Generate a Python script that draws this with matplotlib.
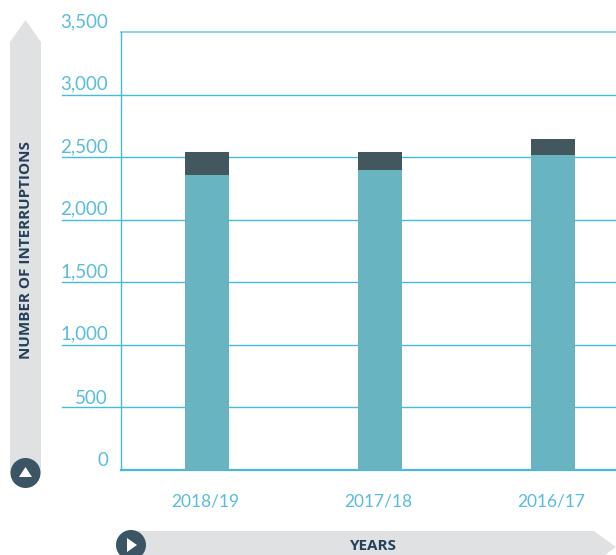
import matplotlib
matplotlib.use("Agg")
import matplotlib.pyplot as plt
from matplotlib.patches import Polygon, Circle
from matplotlib.transforms import ScaledTranslation

years = ["2018/19", "2017/18", "2016/17"]
lower_values = [2357, 2397, 2517]
upper_values = [184, 144, 128]
y_ticks = [0, 500, 1000, 1500, 2000, 2500, 3000, 3500]

W, H = 616, 555
BLUE = "#45bbde"
TEAL = "#68b4c0"
DARK = "#43585e"
GREY = "#e0e1e3"
NAVY = "#3b5564"
TEXT = "#24405a"

plt.rcParams["font.family"] = ["Lato", "DejaVu Sans"]

fig = plt.figure(figsize=(W / 100, H / 100), dpi=100)

# plot area in pixels: x 120.5..616, y 32..470
ax = fig.add_axes([120.5 / W, 1 - 470 / H, (W - 120.5) / W, 438 / H])
ax.bar(range(3), lower_values, width=0.254, color=TEAL, zorder=3)
ax.bar(range(3), upper_values, bottom=lower_values, width=0.254, color=DARK, zorder=3)
ax.set_xlim(-0.5, 2.364)
ax.set_ylim(0, 3500)

for s in ["right", "bottom", "top"]:
    ax.spines[s].set_visible(False)
ax.spines["left"].set_color(BLUE)
ax.spines["left"].set_linewidth(1)
ax.set_xticks(range(3))
ax.set_xticklabels(years, color="#58bcdc", fontsize=12.5)
ax.tick_params(axis="x", length=0, pad=17)
# labels sit a little left of the bar centres
for lab in ax.get_xticklabels():
    lab.set_transform(lab.get_transform() + ScaledTranslation(-2 / 100, 0, fig.dpi_scale_trans))
ax.set_yticks([])

for v in y_ticks:
    if v == 0:
        ax.axhline(v, color="#4db7d6", lw=1.6, zorder=2, clip_on=False)
    elif v == 3500:
        ax.axhline(v, color="#8fd3e6", lw=1.4, zorder=1, clip_on=False)
    else:
        # inner lines run out to the left under the labels
        ax.plot([-58.5 / (W - 120.5), 1], [v, v], color=BLUE, lw=1, zorder=1,
                clip_on=False, transform=ax.get_yaxis_transform())
    off = 0.5 if v <= 500 else 1.5
    ax.annotate(f"{v:,}", (0, v), xycoords=ax.get_yaxis_transform(),
                xytext=(-12.5 / 1.39, off), textcoords="offset points",
                ha="right", va="bottom", color="#58bcdc", fontsize=13.5)

# arrows and labels, in pixel coordinates
deco = fig.add_axes([0, 0, 1, 1], facecolor="none")
deco.set_xlim(0, W)
deco.set_ylim(H, 0)
deco.axis("off")

deco.add_patch(Polygon([(10, 42), (25.5, 20), (41, 42), (41, 473), (10, 473)], color=GREY, lw=0))
deco.add_patch(Circle((25.5, 473), 15, color=NAVY, lw=0))
deco.add_patch(Polygon([(19, 477), (25.5, 467), (32, 477)], color="white", lw=0))
deco.text(26, 250, "NUMBER OF INTERRUPTIONS", rotation=90, ha="center", va="center",
          color=TEXT, fontsize=11, fontweight="bold", family=["Open Sans", "DejaVu Sans"])

deco.add_patch(Polygon([(131, 531), (594, 531), (616, 547), (605, 555), (131, 555)], color=GREY, lw=0))
deco.add_patch(Circle((131, 545), 15, color=NAVY, lw=0))
deco.add_patch(Polygon([(127, 538), (137, 545), (127, 552)], color="white", lw=0))
deco.text(373.5, 546, "YEARS", ha="center", va="center", color=TEXT, fontsize=11,
          fontweight="bold", family=["Open Sans", "DejaVu Sans"])

fig.savefig("out.png", dpi=100)
